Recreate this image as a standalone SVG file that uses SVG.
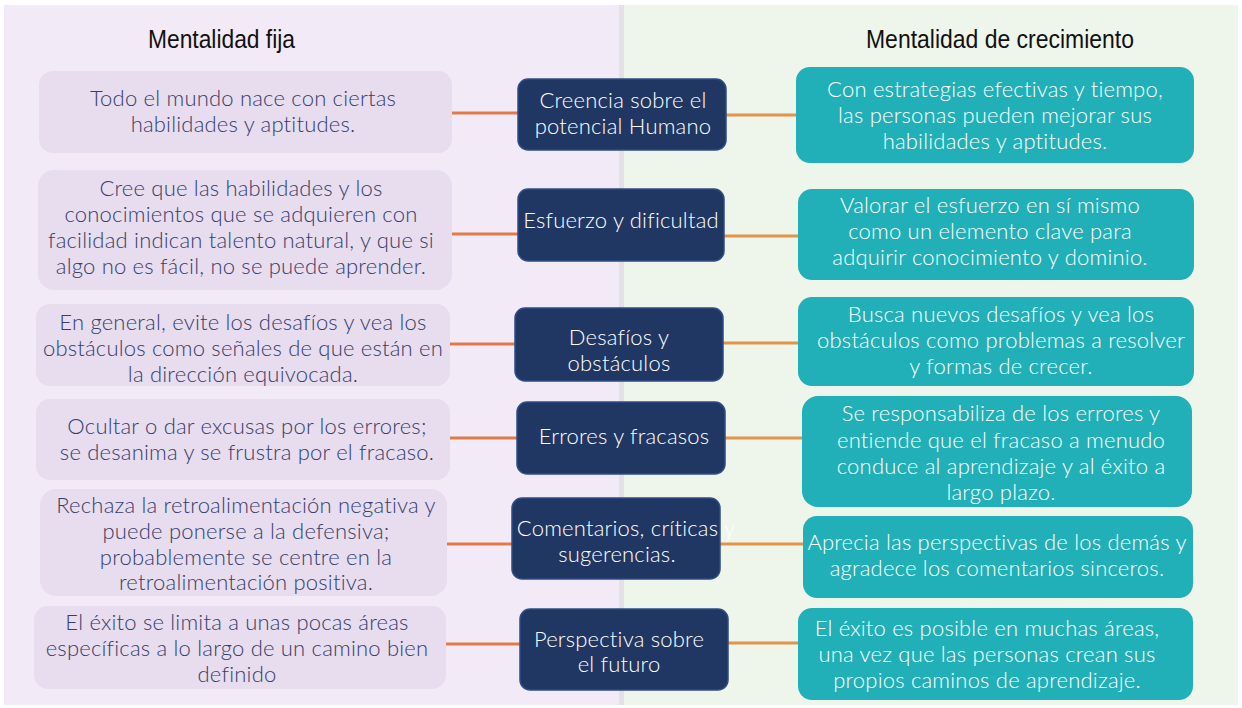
<svg xmlns="http://www.w3.org/2000/svg" width="1242" height="708" viewBox="0 0 1242 708">
<style>
.bgL{fill:#F3EAF7}
.bgR{fill:#EEF5EA}
.lbox{fill:#E8DCEF}
.cbox{fill:#213763;stroke:#2F4C84;stroke-width:1.5}
.rbox{fill:#21B0B7}
.title{font-family:"Liberation Sans",Arial,sans-serif;font-size:25px;fill:#111}
.lt,.ct,.rt{font-family:Lato,"Liberation Sans",sans-serif;font-size:22px;font-weight:300;letter-spacing:0.2px;text-anchor:middle}
.lt{fill:#343F6B}
.ct{fill:#FFFFFF}
.rt{fill:#FFFFFF}
.cl{stroke:#E27A48;stroke-width:3;fill:none}
.cr{stroke:#E0954C;stroke-width:3;fill:none}
</style>
<rect x="0" y="0" width="1242" height="708" fill="#FFFFFF"/>
<rect class="bgL" x="4" y="5" width="616" height="700"/>
<rect x="619" y="5" width="5" height="700" fill="#E4E1E6"/>
<rect class="bgR" x="624" y="5" width="614" height="700"/>
<g id="titles">
<text class="title" x="148" y="48" textLength="147" lengthAdjust="spacingAndGlyphs">Mentalidad fija</text>
<text class="title" x="866" y="48" textLength="268" lengthAdjust="spacingAndGlyphs">Mentalidad de crecimiento</text>
</g>
<g id="connectors">
<line class="cl" x1="452" y1="113" x2="518" y2="113"/>
<line class="cr" x1="726" y1="115" x2="796" y2="115"/>
<line class="cl" x1="452" y1="234" x2="518" y2="234"/>
<line class="cr" x1="724" y1="236" x2="798" y2="236"/>
<line class="cl" x1="450" y1="344" x2="515" y2="344"/>
<line class="cr" x1="723" y1="343" x2="798" y2="343"/>
<line class="cl" x1="450" y1="438" x2="517" y2="438"/>
<line class="cr" x1="725" y1="438" x2="802" y2="438"/>
<line class="cl" x1="447" y1="544" x2="512" y2="544"/>
<line class="cr" x1="720" y1="544" x2="803" y2="544"/>
<line class="cl" x1="446" y1="644" x2="520" y2="644"/>
<line class="cr" x1="728" y1="643" x2="801" y2="643"/>
</g>
<g id="fixed1"><rect class="lbox" x="39" y="71" width="413" height="82" rx="14"/>
<text class="lt" x="243" y="106">Todo el mundo nace con ciertas</text>
<text class="lt" x="243" y="132">habilidades y aptitudes.</text></g>
<g id="fixed2"><rect class="lbox" x="38" y="170" width="414" height="120" rx="16"/>
<text class="lt" x="241" y="196">Cree que las habilidades y los</text>
<text class="lt" x="241" y="222">conocimientos que se adquieren con</text>
<text class="lt" x="241" y="248">facilidad indican talento natural, y que si</text>
<text class="lt" x="241" y="274">algo no es fácil, no se puede aprender.</text></g>
<g id="fixed3"><rect class="lbox" x="36" y="304" width="414" height="82" rx="14"/>
<text class="lt" x="243" y="330">En general, evite los desafíos y vea los</text>
<text class="lt" x="243" y="356">obstáculos como señales de que están en</text>
<text class="lt" x="243" y="382">la dirección equivocada.</text></g>
<g id="fixed4"><rect class="lbox" x="36" y="399" width="414" height="81" rx="14"/>
<text class="lt" x="247" y="434">Ocultar o dar excusas por los errores;</text>
<text class="lt" x="247" y="460">se desanima y se frustra por el fracaso.</text></g>
<g id="fixed5"><rect class="lbox" x="40" y="489" width="407" height="107" rx="16"/>
<text class="lt" x="246" y="513">Rechaza la retroalimentación negativa y</text>
<text class="lt" x="246" y="539">puede ponerse a la defensiva;</text>
<text class="lt" x="246" y="565">probablemente se centre en la</text>
<text class="lt" x="246" y="590">retroalimentación positiva.</text></g>
<g id="fixed6"><rect class="lbox" x="34" y="606" width="412" height="83" rx="14"/>
<text class="lt" x="237" y="630">El éxito se limita a unas pocas áreas</text>
<text class="lt" x="237" y="656">específicas a lo largo de un camino bien</text>
<text class="lt" x="237" y="682">definido</text></g>
<g id="topic1"><rect class="cbox" x="518" y="79" width="208" height="71" rx="10"/>
<text class="ct" x="623" y="108">Creencia sobre el</text>
<text class="ct" x="623" y="134">potencial Humano</text></g>
<g id="topic2"><rect class="cbox" x="518" y="189" width="206" height="72" rx="10"/>
<text class="ct" x="621" y="228">Esfuerzo y dificultad</text></g>
<g id="topic3"><rect class="cbox" x="515" y="308" width="208" height="73" rx="10"/>
<text class="ct" x="619" y="345">Desafíos y</text>
<text class="ct" x="619" y="371">obstáculos</text></g>
<g id="topic4"><rect class="cbox" x="517" y="402" width="208" height="72" rx="10"/>
<text class="ct" x="624" y="444">Errores y fracasos</text></g>
<g id="topic5"><rect class="cbox" x="512" y="498" width="208" height="81" rx="10"/>
<text class="ct" x="626" y="536">Comentarios, críticas y</text>
<text class="ct" x="617" y="562">sugerencias.</text></g>
<g id="topic6"><rect class="cbox" x="520" y="609" width="208" height="81" rx="10"/>
<text class="ct" x="619" y="647">Perspectiva sobre</text>
<text class="ct" x="619" y="672">el futuro</text></g>
<g id="growth1"><rect class="rbox" x="796" y="67" width="398" height="96" rx="14"/>
<text class="rt" x="995" y="97">Con estrategias efectivas y tiempo,</text>
<text class="rt" x="995" y="123">las personas pueden mejorar sus</text>
<text class="rt" x="995" y="149">habilidades y aptitudes.</text></g>
<g id="growth2"><rect class="rbox" x="798" y="189" width="396" height="91" rx="14"/>
<text class="rt" x="990" y="213">Valorar el esfuerzo en sí mismo</text>
<text class="rt" x="990" y="239">como un elemento clave para</text>
<text class="rt" x="990" y="265">adquirir conocimiento y dominio.</text></g>
<g id="growth3"><rect class="rbox" x="798" y="297" width="396" height="89" rx="14"/>
<text class="rt" x="1001" y="322">Busca nuevos desafíos y vea los</text>
<text class="rt" x="1001" y="348">obstáculos como problemas a resolver</text>
<text class="rt" x="1001" y="374">y formas de crecer.</text></g>
<g id="growth4"><rect class="rbox" x="802" y="396" width="390" height="111" rx="16"/>
<text class="rt" x="1001" y="421">Se responsabiliza de los errores y</text>
<text class="rt" x="1001" y="448">entiende que el fracaso a menudo</text>
<text class="rt" x="1001" y="474">conduce al aprendizaje y al éxito a</text>
<text class="rt" x="1001" y="500">largo plazo.</text></g>
<g id="growth5"><rect class="rbox" x="803" y="516" width="390" height="82" rx="14"/>
<text class="rt" x="997" y="550">Aprecia las perspectivas de los demás y</text>
<text class="rt" x="997" y="576">agradece los comentarios sinceros.</text></g>
<g id="growth6"><rect class="rbox" x="798" y="608" width="395" height="92" rx="14"/>
<text class="rt" x="987" y="636">El éxito es posible en muchas áreas,</text>
<text class="rt" x="987" y="662">una vez que las personas crean sus</text>
<text class="rt" x="987" y="688">propios caminos de aprendizaje.</text></g>
</svg>
